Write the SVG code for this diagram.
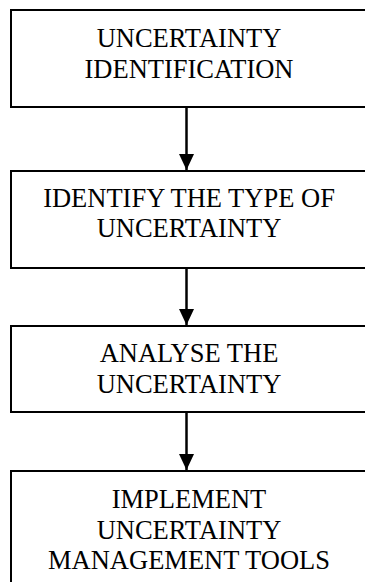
<svg xmlns="http://www.w3.org/2000/svg" width="365" height="582" viewBox="0 0 365 582">
<style>
.box{fill:#fff;stroke:#000;stroke-width:2}
.t{font-family:"Liberation Serif","Times New Roman",serif;font-size:26.5px;fill:#000;text-anchor:middle}
.c{stroke:#000;stroke-width:2.5;fill:none}
</style>
<defs>
<marker id="ah" markerUnits="userSpaceOnUse" markerWidth="16" markerHeight="15" refX="16" refY="7.5" orient="auto" viewBox="0 0 16 15">
<path d="M0,0 L16,7.5 L0,15 Z" fill="#000"/>
</marker>
</defs>
<rect width="365" height="582" fill="#fff"/>
<g id="n1"><rect class="box" x="11" y="10" width="370" height="97"/>
<text class="t" x="189" y="47">UNCERTAINTY</text>
<text class="t" x="189" y="77.5">IDENTIFICATION</text></g>
<g id="n2"><rect class="box" x="11" y="171" width="370" height="97"/>
<text class="t" x="189" y="207">IDENTIFY THE TYPE OF</text>
<text class="t" x="189" y="237">UNCERTAINTY</text></g>
<g id="n3"><rect class="box" x="11" y="326" width="370" height="86"/>
<text class="t" x="189" y="362">ANALYSE THE</text>
<text class="t" x="189" y="392.5">UNCERTAINTY</text></g>
<g id="n4"><rect class="box" x="11" y="471" width="370" height="130"/>
<text class="t" x="189" y="508">IMPLEMENT</text>
<text class="t" x="189" y="538.5">UNCERTAINTY</text>
<text class="t" x="189" y="568.5">MANAGEMENT TOOLS</text></g>
<g id="connectors">
<line class="c" x1="186.5" y1="108" x2="186.5" y2="170" marker-end="url(#ah)"/>
<line class="c" x1="186.5" y1="269" x2="186.5" y2="325" marker-end="url(#ah)"/>
<line class="c" x1="186.5" y1="413" x2="186.5" y2="470" marker-end="url(#ah)"/>
</g>
</svg>
